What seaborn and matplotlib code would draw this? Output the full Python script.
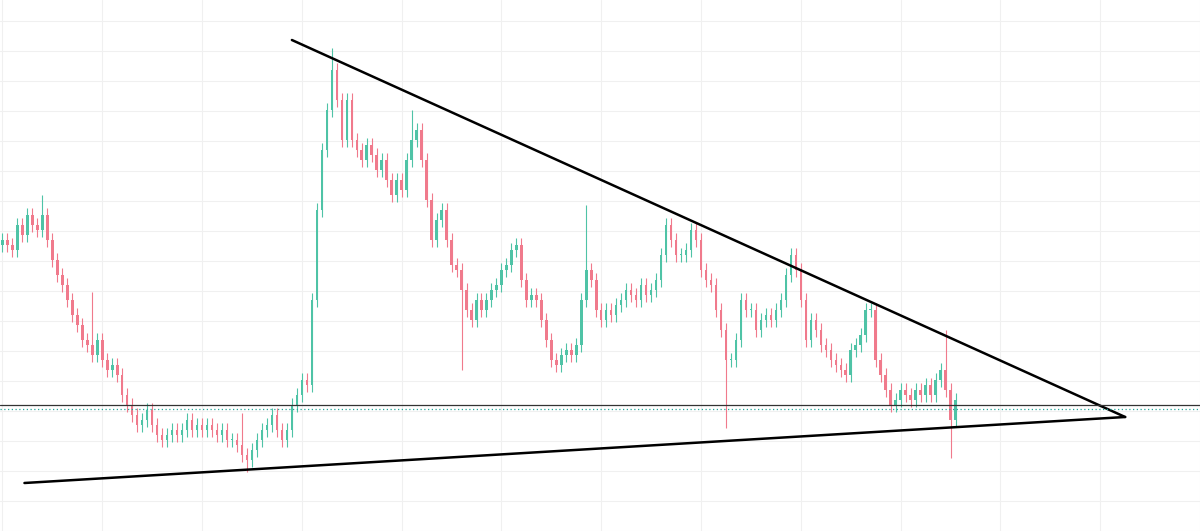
import numpy as np
import pandas as pd
import seaborn as sns
from matplotlib import pyplot as plt
from matplotlib.ticker import MultipleLocator

# close prices (one candle per ~5 px)
closes = [291, 286, 281, 306, 296, 316, 306, 301, 316, 291, 271, 256, 246, 231, 216, 206,
          191, 186, 176, 191, 171, 161, 166, 156, 136, 126, 116, 106, 111, 121, 106, 96,
          91, 96, 101, 96, 101, 111, 101, 106, 101, 106, 101, 96, 101, 91, 91, 86,
          76, 71, 81, 91, 101, 106, 116, 101, 91, 101, 126, 136, 151, 146, 231, 321,
          381, 421, 461, 431, 391, 431, 391, 381, 371, 386, 376, 361, 371, 351, 336, 351,
          341, 371, 391, 401, 371, 331, 291, 311, 321, 291, 266, 261, 241, 221, 211, 231,
          221, 231, 241, 246, 261, 266, 281, 286, 251, 231, 236, 231, 211, 191, 171, 166,
          176, 181, 176, 186, 231, 261, 251, 221, 211, 221, 216, 226, 231, 241, 236, 231,
          246, 236, 241, 251, 276, 306, 291, 276, 276, 281, 301, 291, 261, 251, 246, 221,
          201, 171, 171, 191, 231, 221, 221, 201, 211, 216, 211, 221, 231, 256, 276, 261,
          231, 191, 211, 201, 186, 181, 171, 166, 161, 156, 181, 186, 196, 221, 221, 171,
          156, 141, 126, 131, 141, 136, 131, 141, 136, 146, 136, 151, 161, 141, 111, 131]
# notable wicks: candle index -> extreme price
spike_highs = {66: 483, 117: 326, 189: 201, 18: 239, 48: 118, 82: 421, 8: 336}
spike_lows = {49: 59, 92: 161, 145: 103, 190: 73}
wick = 7

opens = [closes[0] - 5] + closes[:-1]
df = pd.DataFrame({'open': opens, 'close': closes})
df['high'] = df[['open', 'close']].max(axis=1) + wick
df['low'] = df[['open', 'close']].min(axis=1) - wick
for i, v in spike_highs.items():
    df.loc[i, 'high'] = v
for i, v in spike_lows.items():
    df.loc[i, 'low'] = v

sns.set_style('white')
fig, ax = plt.subplots(figsize=(12, 5.31), dpi=100)
fig.subplots_adjust(0, 0, 1, 1)

up = df['close'] >= df['open']
green, red = '#4fc3a6', '#f07a8c'
colors = np.where(up, green, red)
x = np.arange(len(df))
ax.vlines(x, df['low'], df['high'], colors=colors, linewidth=0.8)
ax.bar(x, (df['close'] - df['open']).abs().clip(lower=1), bottom=df[['open', 'close']].min(axis=1),
       width=0.5, color=colors, linewidth=0)

# trendlines (px -> index/price)
ax.plot([290 / 5, 1125 / 5], [531 - 40, 531 - 417], color='black', lw=1.8)
ax.plot([22 / 5, 1125 / 5], [531 - 483, 531 - 417], color='black', lw=1.8)
ax.axhline(531 - 405, color='#333333', lw=0.9)
ax.axhline(531 - 409, color='#26a69a', lw=0.9, ls=(0, (1, 2)))

ax.set_xlim(-0.5, 240)
ax.set_ylim(0, 531)
ax.xaxis.set_major_locator(MultipleLocator(20))
ax.yaxis.set_major_locator(MultipleLocator(30))
ax.grid(True, color='#f0f0f0', lw=0.8)
ax.set_axisbelow(True)
ax.tick_params(labelbottom=False, labelleft=False, length=0)
for s in ax.spines.values():
    s.set_visible(False)
fig.savefig('out.png')
